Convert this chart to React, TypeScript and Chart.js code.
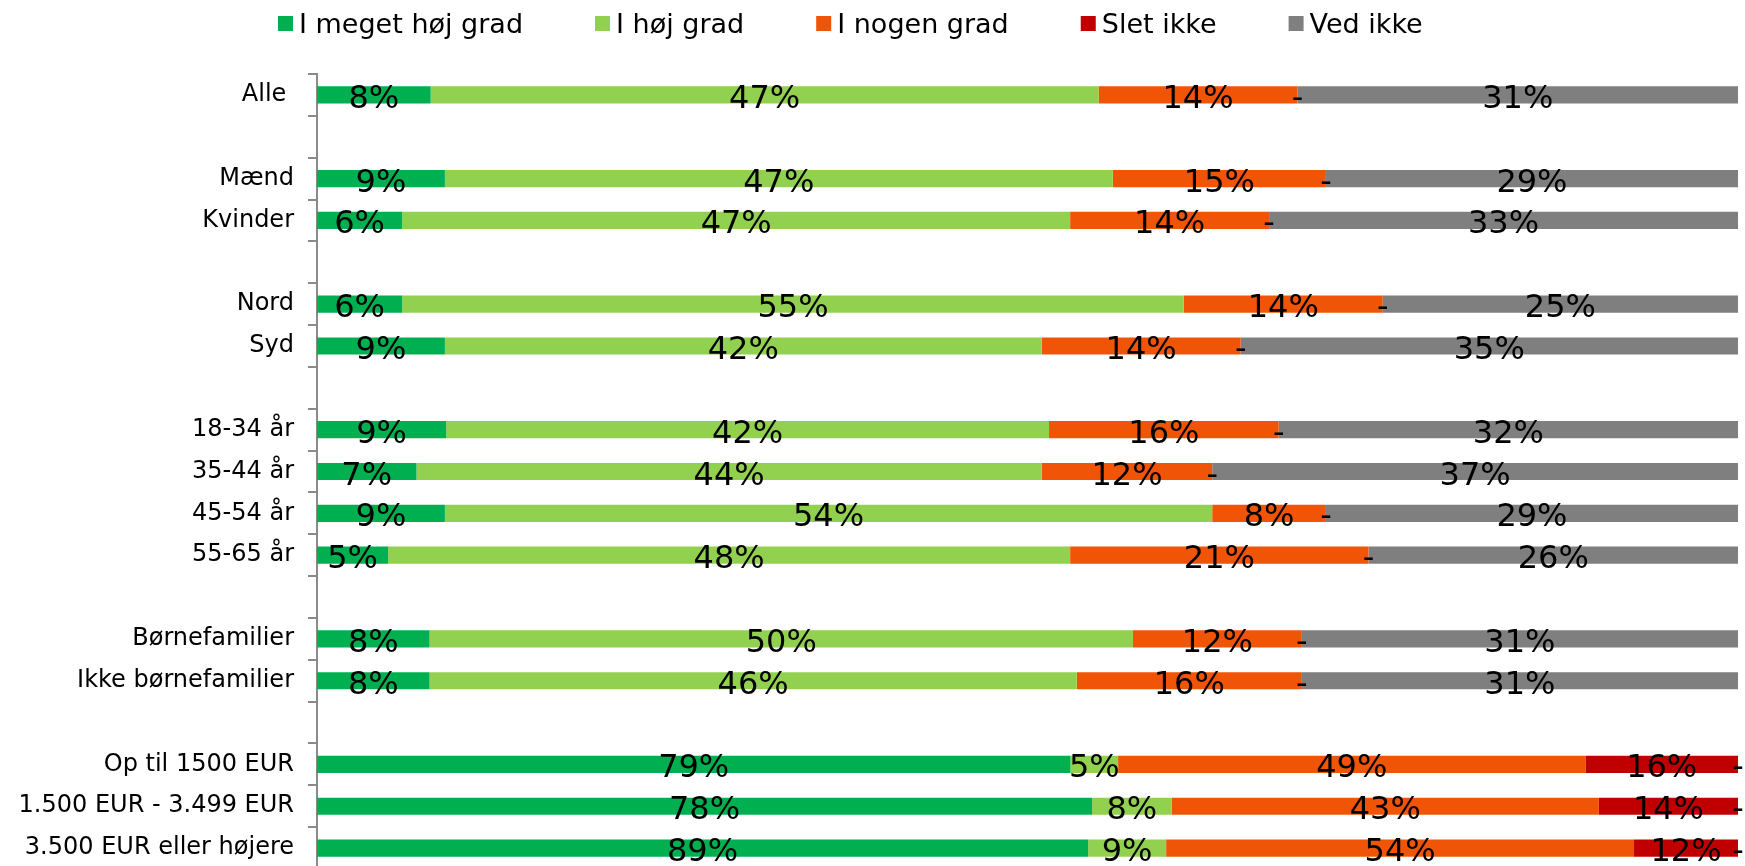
import React, { useEffect, useRef } from "react";
import { Chart, registerables } from "chart.js";

Chart.register(...registerables);

const categories = [
  "Alle ",
  "",
  "Mænd",
  "Kvinder",
  "",
  "Nord",
  "Syd",
  "",
  "18-34 år",
  "35-44 år",
  "45-54 år",
  "55-65 år",
  "",
  "Børnefamilier",
  "Ikke børnefamilier",
  "",
  "Op til 1500 EUR",
  "1.500 EUR - 3.499 EUR",
  "3.500 EUR eller højere",
];

const seriesNames = ["I meget høj grad", "I høj grad", "I nogen grad", "Slet ikke", "Ved ikke"];
const seriesColors = ["#00B050", "#92D050", "#F05407", "#C00000", "#7F7F7F"];

const megetHoj = [8, null, 9, 6, null, 6, 9, null, 9, 7, 9, 5, null, 8, 8, null, 79, 78, 89];
const hoj = [47, null, 47, 47, null, 55, 42, null, 42, 44, 54, 48, null, 50, 46, null, 5, 8, 9];
const nogen = [14, null, 15, 14, null, 14, 14, null, 16, 12, 8, 21, null, 12, 16, null, 49, 43, 54];
const sletIkke = [0, null, 0, 0, null, 0, 0, null, 0, 0, 0, 0, null, 0, 0, null, 16, 14, 12];
const vedIkke = [31, null, 29, 33, null, 25, 35, null, 32, 37, 29, 26, null, 31, 31, null, 0, 0, 0];

const rawSeries = [megetHoj, hoj, nogen, sletIkke, vedIkke];

const FONT = "'DejaVu Sans', Verdana, sans-serif";

const valueLabelPlugin = {
  id: "valueLabels",
  afterDatasetsDraw(chart: any) {
    const ctx = chart.ctx;
    ctx.save();
    ctx.font = `32px ${FONT}`;
    ctx.fillStyle = "#000000";
    ctx.textAlign = "center";
    ctx.textBaseline = "alphabetic";
    chart.data.datasets.forEach((ds: any, di: number) => {
      const meta = chart.getDatasetMeta(di);
      meta.data.forEach((el: any, i: number) => {
        const raw = ds.rawValues[i];
        if (raw === null || raw === undefined) return;
        const p = el.getProps(["x", "base", "y"], true);
        const cx = (p.x + p.base) / 2;
        const txt = raw === 0 ? "-" : `${raw}%`;
        ctx.fillText(txt, cx, p.y + 13);
      });
    });
    ctx.restore();
  },
};

const customLegendPlugin = {
  id: "customLegend",
  afterDraw(chart: any) {
    const ctx = chart.ctx;
    ctx.save();
    ctx.font = `27px ${FONT}`;
    ctx.textAlign = "left";
    ctx.textBaseline = "alphabetic";
    let x = 278;
    const box = 15;
    const boxTop = 16;
    const baseline = 33;
    chart.data.datasets.forEach((ds: any) => {
      ctx.fillStyle = ds.backgroundColor;
      ctx.fillRect(x, boxTop, box, box);
      x += box + 6;
      ctx.fillStyle = "#000000";
      ctx.fillText(ds.label, x, baseline);
      x += ctx.measureText(ds.label).width + 72;
    });
    ctx.restore();
  },
};

export default function App() {
  const canvasRef = useRef<HTMLCanvasElement | null>(null);

  useEffect(() => {
    if (!canvasRef.current) return;
    const totals = categories.map((_, i) => {
      let s = 0;
      let any = false;
      rawSeries.forEach((arr) => {
        const v = arr[i];
        if (v !== null && v !== undefined) {
          s += v;
          any = true;
        }
      });
      return any ? s : null;
    });

    const datasets = rawSeries.map((arr, si) => ({
      label: seriesNames[si],
      backgroundColor: seriesColors[si],
      borderWidth: 0,
      rawValues: arr,
      data: arr.map((v, i) => (v === null || totals[i] === null ? null : (v / (totals[i] as number)) * 100)),
      barPercentage: 0.41,
      categoryPercentage: 1,
    }));

    const chart = new Chart(canvasRef.current, {
      type: "bar",
      data: { labels: categories, datasets: datasets as any },
      options: {
        indexAxis: "y",
        animation: false,
        responsive: true,
        maintainAspectRatio: false,
        layout: { padding: { top: 74, right: 7, bottom: 1, left: 0 } },
        plugins: {
          legend: { display: false },
          tooltip: { enabled: false },
        },
        scales: {
          x: {
            stacked: true,
            min: 0,
            max: 100,
            display: false,
          },
          y: {
            stacked: true,
            afterFit: (s: any) => {
              s.width = 317;
              s.paddingTop = 0;
              s.paddingBottom = 0;
            },
            border: { display: true, color: "#8A8A8A", width: 2 },
            grid: {
              display: true,
              drawOnChartArea: false,
              drawTicks: true,
              tickLength: 9,
              color: "#8A8A8A",
              lineWidth: 2,
            },
            ticks: {
              color: "#000000",
              padding: 14,
              autoSkip: false,
              font: { family: FONT, size: 24 },
            },
          },
        },
      },
      plugins: [valueLabelPlugin, customLegendPlugin],
    });

    return () => {
      chart.destroy();
    };
  }, []);

  return (
    <div
      style={{
        position: "fixed",
        left: 0,
        top: 0,
        width: "100vw",
        height: "100vh",
        overflow: "hidden",
        background: "#ffffff",
      }}
    >
      <div style={{ position: "relative", width: 1745, height: 870 }}>
        <canvas ref={canvasRef} />
      </div>
    </div>
  );
}
